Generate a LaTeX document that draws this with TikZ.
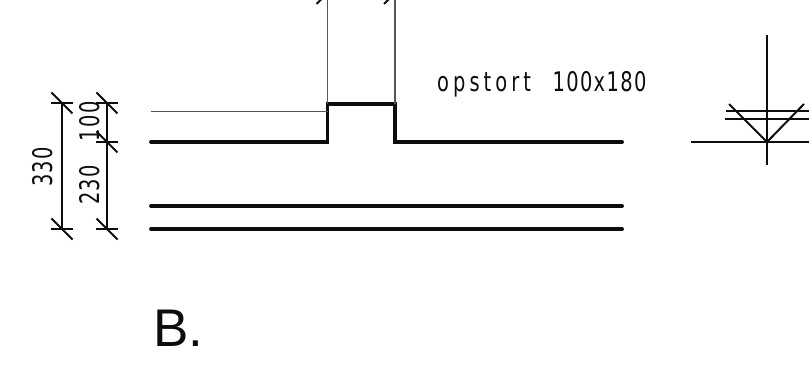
\documentclass[tikz,border=0pt]{standalone}
\usepackage{fontspec}
\setmainfont{Liberation Sans}
\newfontfamily\drawingfont[FakeStretch=0.72,LetterSpace=5]{DejaVu Sans}
\newfontfamily\drawingwide[FakeStretch=0.72,LetterSpace=15]{DejaVu Sans}
\usetikzlibrary{positioning}
\definecolor{RichBlack}{gray}{0.05}
\tikzset{%
  heavy_line/.style={%
    draw=RichBlack,%
    line width=3.9pt,%
    line cap=round,%
    line join=miter,%
  },
  medium_line/.style={%
    draw=RichBlack,%
    line width=2pt,%
  },
  hair_line/.style={%
    draw=RichBlack!70,%
    line width=1.2pt,%
  },
  annotate/.style={%
    color=RichBlack,%
    inner sep=0pt,%
    font={\drawingfont\fontsize{27}{27}\selectfont},%
  },
  title_label/.style={%
    color=RichBlack,%
    inner sep=0pt,%
    font={\fontsize{53}{53}\selectfont},%
  },
  pics/dim_tick/.style={%
    code={%
      \draw [medium_line] (-11, 0) -- (11, 0);
      \draw [medium_line] (-10.5, -10.5) -- (10.5, 10.5);
    }
  },
  pics/dim_tick_top/.style={%
    code={%
      \draw [medium_line] (-11, 11) -- (11, -11);
    }
  },
}
\begin{document}
\begin{tikzpicture}[x=1pt, y=-1pt]

    \useasboundingbox (0, 0) rectangle (809, 382);
    \clip (0, 0) rectangle (809, 382);

    % floor build-up
    \coordinate (FloorStart) at (151, 142);
    \coordinate (RiseLeft) at (327.5, 142);
    \coordinate (TopLeft) at (327.5, 104);
    \coordinate (TopRight) at (395, 104);
    \coordinate (RiseRight) at (395, 142);
    \coordinate (FloorEnd) at (622, 142);
    \coordinate (SlabTopStart) at (151, 206);
    \coordinate (SlabTopEnd) at (622, 206);
    \coordinate (SlabBotStart) at (151, 229);
    \coordinate (SlabBotEnd) at (622, 229);
    \coordinate (ThinStart) at (151, 111.5);
    \coordinate (ThinEnd) at (327.5, 111.5);
    \coordinate (GridLeft) at (327.5, -7);
    \coordinate (GridRight) at (395, -7);

    \draw [heavy_line]
      (FloorStart) -- (RiseLeft) -- (TopLeft) -- (TopRight) -- (RiseRight) -- (FloorEnd);
    \draw [heavy_line] (SlabTopStart) -- (SlabTopEnd);
    \draw [heavy_line] (SlabBotStart) -- (SlabBotEnd);
    \draw [hair_line] (ThinStart) -- (ThinEnd);
    \draw [hair_line] (TopLeft) -- (GridLeft);
    \draw [hair_line] (TopRight) -- (GridRight);
    \pic at (GridLeft) {dim_tick_top};
    \pic at (GridRight) {dim_tick_top};

    % dimensions
    \coordinate (OuterTop) at (62, 103);
    \coordinate (OuterBot) at (62, 229);
    \coordinate (InnerTop) at (107, 103);
    \coordinate (InnerMid) at (107, 142);
    \coordinate (InnerBot) at (107, 229);

    \draw [medium_line] (OuterTop) -- (OuterBot);
    \draw [medium_line] (InnerTop) -- (InnerBot);
    \foreach \tick in {OuterTop, OuterBot, InnerTop, InnerMid, InnerBot} {
      \pic at (\tick) {dim_tick};
    }

    \node [annotate, rotate=90] (Dim330) at (43, 167) {330};
    \node [annotate, rotate=90] (Dim100) at (90, 121.5) {100};
    \node [annotate, rotate=90] (Dim230) at (90, 185) {230};

    \node [annotate, anchor=base west] (Upstand) at (437, 91.5)
      {{\drawingwide opstort}\hspace{0.8em}100x180};
    \node [title_label, anchor=base west] (Title) at (153, 346) {B.};

    % level mark
    \coordinate (AxisTop) at (767, 35);
    \coordinate (AxisBot) at (767, 165);
    \coordinate (LevelStart) at (691, 142);
    \coordinate (LevelEnd) at (809, 142);
    \coordinate (VeeLeft) at (729, 104);
    \coordinate (VeeApex) at (767, 142);
    \coordinate (VeeRight) at (804, 104);
    \coordinate (BarOneStart) at (726, 111);
    \coordinate (BarOneEnd) at (809, 111);
    \coordinate (BarTwoStart) at (725, 119);
    \coordinate (BarTwoEnd) at (809, 119);

    \draw [medium_line] (AxisTop) -- (AxisBot);
    \draw [medium_line] (LevelStart) -- (LevelEnd);
    \draw [medium_line] (VeeLeft) -- (VeeApex) -- (VeeRight);
    \draw [medium_line] (BarOneStart) -- (BarOneEnd);
    \draw [medium_line] (BarTwoStart) -- (BarTwoEnd);

\end{tikzpicture}
\end{document}
